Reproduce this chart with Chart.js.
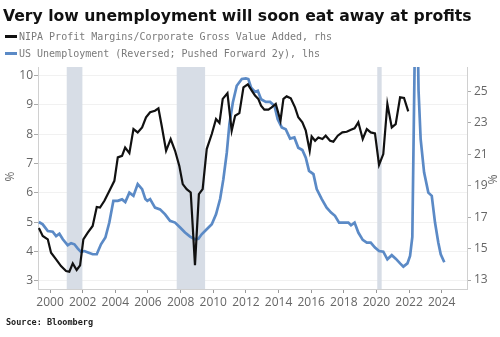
<!DOCTYPE html>
<html>
<head>
<meta charset="utf-8">
<script src="https://cdn.jsdelivr.net/npm/chart.js@4"></script>
<style>
  body { margin: 0; background: #fff; }
  #wrap { position: relative; width: 500px; height: 337px; overflow: hidden; }
  #chart { position: absolute; left: 0; top: 0; }
  .title { position: absolute; left: 3px; top: 8px; font: bold 15.65px "DejaVu Sans", sans-serif; line-height: 16px; color: #111; white-space: nowrap; }
  .leg { position: absolute; left: 5px; height: 14px; display: flex; align-items: center; font: 10px "DejaVu Sans Mono", monospace; color: #7a7a7a; white-space: nowrap; }
  .leg i { display: inline-block; width: 12px; height: 3px; margin-right: 2px; }
  .unit { position: absolute; font: 12px "Open Sans", sans-serif; color: #666; }
  .source { position: absolute; left: 6px; top: 317px; font: bold 8.5px "DejaVu Sans Mono", monospace; color: #222; }
</style>
</head>
<body>
<div id="wrap">
  <canvas id="chart" width="500" height="337"></canvas>
  <div class="title">Very low unemployment will soon eat away at profits</div>
  <div class="leg" style="top:29px"><i style="background:#111"></i>NIPA Profit Margins/Corporate Gross Value Added, rhs</div>
  <div class="leg" style="top:46px"><i style="background:#5b8ac6"></i>US Unemployment (Reversed; Pushed Forward 2y), lhs</div>
  <div class="unit" style="left:5px; top:168px; transform: rotate(-90deg)">%</div>
  <div class="unit" style="left:488px; top:171px; transform: rotate(90deg)">%</div>
  <div class="source">Source: Bloomberg</div>
</div>
<script>
// 利益率（右軸）
const profitYears = [1999.31, 1999.55, 1999.86, 2000.06, 2000.37, 2000.67, 2000.98, 2001.18, 2001.39, 2001.63, 2001.84,
  2002.04, 2002.31, 2002.61, 2002.86, 2003.06, 2003.33, 2003.63, 2003.94, 2004.15, 2004.41, 2004.60, 2004.86,
  2005.11, 2005.37, 2005.64, 2005.88, 2006.13, 2006.43, 2006.64, 2006.84, 2007.11, 2007.39, 2007.66, 2007.92,
  2008.13, 2008.37, 2008.62, 2008.88, 2009.12, 2009.35, 2009.60, 2009.91, 2010.17, 2010.38, 2010.58, 2010.87,
  2011.13, 2011.34, 2011.60, 2011.85, 2012.12, 2012.36, 2012.56, 2012.76, 2012.93, 2013.13, 2013.38, 2013.58,
  2013.83, 2014.12, 2014.30, 2014.50, 2014.75, 2015.01, 2015.21, 2015.46, 2015.67, 2015.91, 2016.03, 2016.24,
  2016.44, 2016.69, 2016.89, 2017.16, 2017.36, 2017.63, 2017.91, 2018.18, 2018.44, 2018.66, 2018.89, 2019.16,
  2019.41, 2019.65, 2019.91, 2020.16, 2020.42, 2020.67, 2020.94, 2021.18, 2021.45, 2021.69, 2021.95];
const profitMargins = [16.31, 15.80, 15.59, 14.74, 14.32, 13.89, 13.57, 13.53, 14.06, 13.64, 13.93,
  15.59, 16.01, 16.44, 17.65, 17.61, 18.04, 18.67, 19.31, 20.80, 20.90, 21.43, 21.07,
  22.60, 22.39, 22.71, 23.35, 23.67, 23.77, 23.92, 22.81, 21.22, 21.97, 21.22, 20.26,
  19.10, 18.78, 18.57, 13.95, 18.46, 18.78, 21.33, 22.29, 23.24, 22.99, 24.52, 24.88,
  22.50, 23.45, 23.62, 25.26, 25.45, 25.05, 24.73, 24.52, 24.09, 23.84, 23.84, 23.98,
  24.20, 23.13, 24.52, 24.68, 24.56, 23.98, 23.35, 23.03, 22.50, 21.22, 22.13, 21.86,
  22.07, 21.97, 22.18, 21.86, 21.80, 22.18, 22.39, 22.43, 22.56, 22.65, 23.03, 21.97,
  22.60, 22.39, 22.33, 20.33, 21.01, 24.20, 22.71, 22.92, 24.62, 24.58, 23.73];

// 失業率（左軸、2年先行）
const unempYears = [1999.31, 1999.55, 1999.86, 2000.16, 2000.37, 2000.57, 2000.78, 2001.08, 2001.29, 2001.49, 2001.70,
  2001.90, 2002.10, 2002.37, 2002.61, 2002.86, 2003.12, 2003.39, 2003.63, 2003.88, 2004.15, 2004.41, 2004.61,
  2004.86, 2005.11, 2005.37, 2005.64, 2005.84, 2005.96, 2006.13, 2006.43, 2006.74, 2007.05, 2007.35, 2007.66,
  2007.97, 2008.27, 2008.58, 2008.88, 2009.09, 2009.29, 2009.60, 2009.91, 2010.17, 2010.42, 2010.62, 2010.83,
  2010.99, 2011.20, 2011.44, 2011.75, 2012.00, 2012.15, 2012.32, 2012.56, 2012.73, 2012.93, 2013.22, 2013.48,
  2013.75, 2013.95, 2014.20, 2014.44, 2014.71, 2014.97, 2015.21, 2015.46, 2015.67, 2015.87, 2016.14, 2016.34,
  2016.65, 2016.95, 2017.22, 2017.46, 2017.71, 2017.97, 2018.28, 2018.44, 2018.66, 2018.89, 2019.16, 2019.41,
  2019.65, 2019.91, 2020.16, 2020.42, 2020.67, 2020.94, 2021.18, 2021.45, 2021.65, 2021.90, 2022.06, 2022.20,
  2022.44, 2022.50, 2022.58, 2022.71, 2022.92, 2023.18, 2023.39, 2023.59, 2023.79, 2023.94, 2024.16];
const unempRate = [5.01, 4.93, 4.70, 4.68, 4.53, 4.61, 4.42, 4.22, 4.29, 4.25, 4.10,
  3.99, 4.02, 3.96, 3.91, 3.91, 4.25, 4.48, 4.99, 5.73, 5.73, 5.78, 5.69,
  6.01, 5.90, 6.30, 6.13, 5.79, 5.73, 5.79, 5.50, 5.44, 5.27, 5.05, 4.99,
  4.82, 4.65, 4.51, 4.42, 4.44, 4.59, 4.76, 4.93, 5.27, 5.79, 6.47, 7.37,
  8.34, 9.08, 9.65, 9.88, 9.90, 9.88, 9.59, 9.44, 9.48, 9.19, 9.10, 9.10,
  8.97, 8.51, 8.23, 8.17, 7.85, 7.89, 7.54, 7.46, 7.20, 6.75, 6.64, 6.13,
  5.79, 5.50, 5.33, 5.22, 4.99, 4.99, 4.99, 4.90, 4.99, 4.65, 4.40, 4.31,
  4.31, 4.14, 4.02, 4.00, 3.74, 3.88, 3.76, 3.60, 3.49, 3.60, 3.85, 4.50,
  14.7, 12.5, 9.5, 7.83, 6.70, 6.01, 5.90, 4.99, 4.31, 3.91, 3.64];

// 景気後退期
const recessionStart = [2001.02, 2007.76, 2020.05];
const recessionEnd = [2001.98, 2009.50, 2020.32];

const xTicks = [2000, 2002, 2004, 2006, 2008, 2010, 2012, 2014, 2016, 2018, 2020, 2022, 2024];
const leftTicks = [3, 4, 5, 6, 7, 8, 9, 10];
const rightTicks = [13, 14, 15, 16, 17, 18, 19, 20, 21, 22, 23, 24, 25, 26];

Chart.defaults.font.family = "'Open Sans', sans-serif";
Chart.defaults.font.size = 12;
Chart.defaults.color = "#666";

const bandPlugin = {
  id: "bands",
  beforeDatasetsDraw(chart) {
    const { ctx, chartArea, scales } = chart;
    ctx.save();
    ctx.fillStyle = "#d7dde6";
    recessionStart.forEach((s, i) => {
      const x1 = scales.x.getPixelForValue(s);
      const x2 = scales.x.getPixelForValue(recessionEnd[i]);
      ctx.fillRect(x1, chartArea.top, x2 - x1, chartArea.bottom - chartArea.top);
    });
    ctx.restore();
  }
};

new Chart(document.getElementById("chart"), {
  type: "line",
  data: {
    datasets: [
      {
        label: "NIPA Profit Margins/Corporate Gross Value Added, rhs",
        data: profitYears.map((x, i) => ({ x: x, y: profitMargins[i] })),
        yAxisID: "yR",
        borderColor: "#111",
        borderWidth: 2.2,
        pointRadius: 0,
        tension: 0,
        order: 0
      },
      {
        label: "US Unemployment (Reversed; Pushed Forward 2y), lhs",
        data: unempYears.map((x, i) => ({ x: x, y: unempRate[i] })),
        yAxisID: "yL",
        borderColor: "#5b8ac6",
        borderWidth: 2.7,
        pointRadius: 0,
        tension: 0,
        order: 1
      }
    ]
  },
  options: {
    responsive: false,
    animation: false,
    layout: { padding: { top: 67, left: 0, right: 0, bottom: 0 } },
    plugins: { legend: { display: false }, tooltip: { enabled: false } },
    scales: {
      x: {
        type: "linear",
        min: 1999.26,
        max: 2025.55,
        afterBuildTicks: s => { s.ticks = xTicks.map(v => ({ value: v })); },
        afterFit: s => { s.height = 48; },
        ticks: { padding: 2, maxRotation: 0, autoSkip: false, callback: v => String(v) },
        grid: { drawOnChartArea: false, tickLength: 4, tickColor: "#999" },
        border: { color: "#d0d0d0" }
      },
      yL: {
        position: "left",
        min: 2.727,
        max: 10.29,
        afterBuildTicks: s => { s.ticks = leftTicks.map(v => ({ value: v })); },
        afterFit: s => { s.width = 38; },
        ticks: { padding: 1, callback: v => String(v) },
        grid: { color: "#f1f1f1", tickLength: 4, tickColor: "#aaa" },
        border: { color: "#d0d0d0" }
      },
      yR: {
        position: "right",
        min: 12.43,
        max: 26.55,
        afterBuildTicks: s => { s.ticks = rightTicks.map(v => ({ value: v })); },
        afterFit: s => { s.width = 33; },
        ticks: { padding: 3, callback: v => (v % 2 === 1 ? String(v) : "") },
        grid: { drawOnChartArea: false, tickLength: 4, tickColor: "#aaa" },
        border: { color: "#d0d0d0" }
      }
    }
  },
  plugins: [bandPlugin]
});
</script>
</body>
</html>
